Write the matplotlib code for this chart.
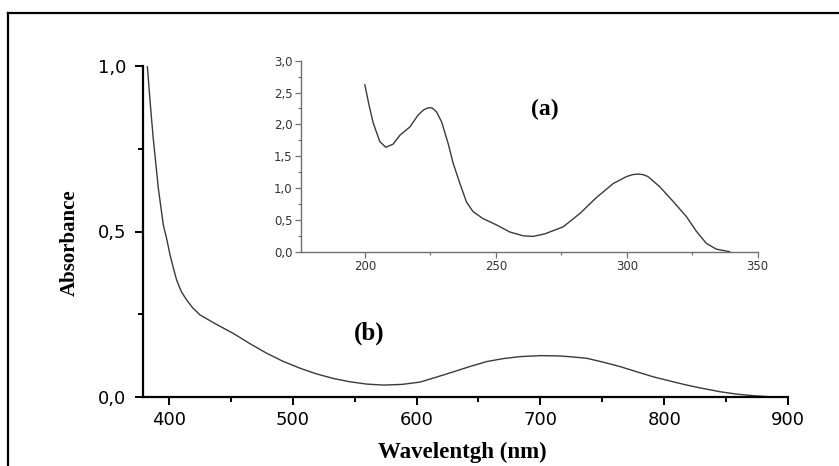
import matplotlib
matplotlib.use("Agg")
import matplotlib.pyplot as plt
from matplotlib.ticker import MultipleLocator, FuncFormatter
from matplotlib.lines import Line2D

# curve (b): visible range, main axes
b_wl = [382.5, 385, 387.3, 391.4, 395.4, 398, 400.8, 403.5, 406.2, 410, 414.3,
        419, 425, 438, 452, 465, 479, 492, 505.8, 519, 532.7, 546, 559.7, 573,
        588, 602.7, 616, 629.7, 643, 656.6, 670, 683.5, 700, 715.8, 726, 737.4,
        751, 764.3, 778, 791.2, 805, 818.2, 831, 845, 858, 872, 884, 896]
b_abs = [1.0, 0.88, 0.78, 0.63, 0.52, 0.48, 0.43, 0.39, 0.353, 0.318, 0.293,
         0.27, 0.248, 0.22, 0.192, 0.162, 0.132, 0.108, 0.087, 0.07, 0.056,
         0.046, 0.039, 0.036, 0.038, 0.045, 0.06, 0.076, 0.092, 0.107, 0.116,
         0.122, 0.125, 0.124, 0.121, 0.117, 0.105, 0.092, 0.076, 0.061, 0.048,
         0.036, 0.026, 0.016, 0.009, 0.004, 0.001, 0.0]

# curve (a): UV range, inset
a_wl = [200, 201.6, 203.2, 205.7, 208, 210.8, 213.4, 217.2, 220.4, 222.5,
        224.2, 225.6, 227.3, 229.3, 231.8, 233.7, 236.3, 238.8, 241.3, 245.1,
        250.3, 255.3, 260.4, 264.2, 268.7, 275.7, 282.1, 288.4, 294.8, 299.9,
        302.2, 304.3, 306.3, 308.1, 312.6, 317.7, 322.8, 326.6, 330.4, 334.2,
        339.3]
a_abs = [2.62, 2.30, 2.02, 1.73, 1.64, 1.69, 1.83, 1.96, 2.15, 2.23,
         2.26, 2.26, 2.20, 2.04, 1.70, 1.39, 1.07, 0.78, 0.63, 0.52,
         0.42, 0.31, 0.25, 0.24, 0.28, 0.39, 0.60, 0.85, 1.07, 1.18,
         1.21, 1.22, 1.21, 1.18, 1.02, 0.79, 0.55, 0.32, 0.13, 0.04,
         0.0]

comma = FuncFormatter(lambda v, pos: f"{v:.1f}".replace(".", ","))
serif_bold = dict(family="Liberation Serif", weight="bold")

fig = plt.figure(figsize=(8.39, 4.66), dpi=100)

# frame around the whole picture (right and bottom edges are cut off)
fig.add_artist(Line2D([8 / 839, 8 / 839], [0, 1 - 13 / 466], transform=fig.transFigure,
                      color="black", lw=1.6))
fig.add_artist(Line2D([8 / 839, 1], [1 - 13 / 466, 1 - 13 / 466], transform=fig.transFigure,
                      color="black", lw=1.6))

ax = fig.add_axes([143 / 839, 69 / 466, 645 / 839, 331 / 466])
ax.plot(b_wl, b_abs, color="#3a3a3a", lw=1.0)
ax.set_xlim(379, 900)
ax.set_ylim(0, 1.0)
for s in ["top", "right"]:
    ax.spines[s].set_visible(False)
for s in ["left", "bottom"]:
    ax.spines[s].set_linewidth(1.6)
ax.xaxis.set_major_locator(MultipleLocator(100))
ax.xaxis.set_minor_locator(MultipleLocator(50))
ax.yaxis.set_major_locator(MultipleLocator(0.5))
ax.yaxis.set_minor_locator(MultipleLocator(0.25))
ax.yaxis.set_major_formatter(comma)
ax.tick_params(which="major", direction="out", length=6, width=1.4, labelsize=13, pad=4)
ax.tick_params(which="minor", direction="out", length=3.5, width=1.4)
ax.tick_params(axis="y", pad=6)
for lab in ax.get_xticklabels() + ax.get_yticklabels():
    lab.set_family("DejaVu Sans")

ax.set_xlabel("Wavelentgh (nm)", fontsize=16.5, va="center", **serif_bold)
ax.xaxis.set_label_coords((462 - 143) / 645, (397 - 452) / 331)
ax.set_ylabel("Absorbance", fontsize=15, va="center", **serif_bold)
ax.yaxis.set_label_coords((70 - 143) / 645, (397 - 243) / 331)
ax.text(562, 0.193, "(b)", fontsize=18, ha="center", va="center", **serif_bold)

# inset
ins = fig.add_axes([300.7 / 839, (466 - 251.7) / 466, 457 / 839, 191 / 466])
ins.plot(a_wl, a_abs, color="#3a3a3a", lw=1.0)
ins.set_xlim(175.5, 350)
ins.set_ylim(0, 3.0)
for s in ["top", "right"]:
    ins.spines[s].set_visible(False)
for s in ["left", "bottom"]:
    ins.spines[s].set_linewidth(1.0)
    ins.spines[s].set_color("#707070")
ins.xaxis.set_major_locator(MultipleLocator(50))
ins.xaxis.set_minor_locator(MultipleLocator(25))
ins.yaxis.set_major_locator(MultipleLocator(0.5))
ins.yaxis.set_minor_locator(MultipleLocator(0.25))
ins.yaxis.set_major_formatter(comma)
ins.tick_params(which="major", direction="out", length=4, width=0.9, color="#707070",
                labelsize=8.5, labelcolor="#333333", pad=2)
ins.tick_params(which="minor", direction="out", length=2.5, width=0.9, color="#707070")
ins.text(268.7, 2.23, "(a)", fontsize=17, ha="center", va="center", **serif_bold)

fig.savefig("out.png", dpi=100)
